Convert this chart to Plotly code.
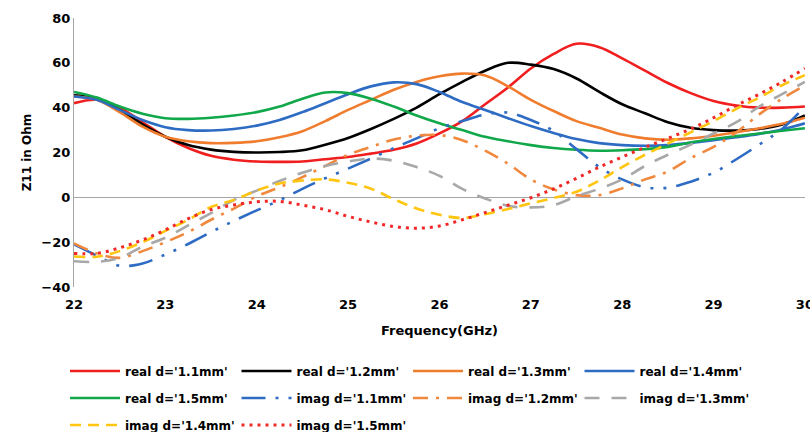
import plotly.graph_objects as go

freq = [22 + 0.25 * i for i in range(33)]

real_11 = [42, 43.5, 40, 33.5, 27, 22, 18.5, 16.8, 16, 15.8, 16, 17, 18, 19.5, 21.2, 24, 28.5,
           34, 41.5, 49, 57.5, 64, 68.5, 67, 62, 56.5, 51, 46.5, 43, 41, 40, 40, 40.5]
real_12 = [45.5, 44, 39, 32.5, 27, 23.3, 21.3, 20.3, 20, 20.2, 21, 23.5, 26.5, 30.5, 35, 40, 46,
           51.5, 56.5, 60, 59.2, 57.2, 53, 47, 41.5, 37.5, 33.5, 31, 30, 29.8, 30.5, 32.5, 36.5]
real_13 = [45, 43.5, 38, 31.5, 27, 25, 24.2, 24.3, 25, 26.8, 29.5, 34, 39, 43.5, 48, 51.5, 54,
           55.2, 54.3, 49.5, 43.5, 38.5, 34, 31, 28, 26.3, 25.7, 26.3, 27.5, 29, 30.8, 32.8, 35.5]
real_14 = [45, 43.5, 39, 34.5, 31.3, 30, 29.8, 30.5, 32, 34.5, 38, 42, 46, 49.5, 51.3, 50.5, 47,
           42.5, 39, 35.3, 31.8, 28.7, 26, 24.2, 23.3, 23, 23.3, 24.3, 25.5, 26.8, 28.3, 30.3, 33]
real_15 = [47, 44.5, 40.5, 37.3, 35.3, 35, 35.5, 36.5, 38, 40.5, 44, 46.8, 46.5, 44, 40.5, 36.5, 33,
           30, 27, 25, 23.3, 22, 21.2, 20.8, 21, 21.5, 22.5, 24.5, 26, 27.3, 28.5, 29.7, 30.8]
imag_11 = [-21, -26, -30.5, -29.5, -25.5, -20.8, -15.5, -10.5, -5.8, -1.3, 3.8, 8.5, 12.8, 17.3, 22, 26.3, 30.8,
           34, 37, 37.8, 34.5, 29.6, 21.5, 13.5, 8, 4.5, 4.3, 7, 11, 17, 23.5, 30.5, 40.5]
imag_12 = [-20.5, -25, -27, -24, -20, -15.5, -10, -5, 0.5, 4.5, 9, 14, 19, 22.5, 25.8, 27.5, 27.8,
           25.5, 20.8, 15, 8, 3.5, 1, 1, 4, 8, 11.5, 17.5, 22.5, 29, 37, 44, 50]
imag_13 = [-28.5, -28.8, -27, -22, -18, -12.5, -7, -1.2, 3, 7.3, 11, 14, 16, 17.3, 16.3, 13.5, 9.6,
           3.8, -0.5, -3.8, -4.5, -3.5, 0.5, 3.8, 8, 14, 19, 23.5, 28.5, 33.5, 40.5, 46, 51.5]
imag_14 = [-26.4, -26.5, -24, -20, -15, -10, -4.3, -1.2, 3, 6.2, 7.5, 8, 6.5, 3.8, -0.8, -5, -7.8,
           -9.2, -7.5, -5.2, -2.7, -0.3, 2.5, 7.5, 13.5, 19, 24, 29, 34, 39.5, 44.5, 50, 54.5]
imag_15 = [-25, -25, -22.5, -19, -14.5, -9.5, -5.5, -3.4, -2, -1.8, -3.5, -5.5, -8.5, -11, -13, -13.8, -12.8,
           -10, -6.8, -3.5, -0.2, 3.8, 8.5, 13.5, 18, 22.3, 26.3, 30.5, 35.5, 41, 46, 51.5, 57.5]

names = ["real d='1.1mm'", "real d='1.2mm'", "real d='1.3mm'", "real d='1.4mm'",
         "real d='1.5mm'", "imag d='1.1mm'", "imag d='1.2mm'", "imag d='1.3mm'",
         "imag d='1.4mm'", "imag d='1.5mm'"]
series = [real_11, real_12, real_13, real_14, real_15, imag_11, imag_12, imag_13, imag_14, imag_15]
colors = ["#F01E1E", "#000000", "#F07C2E", "#2E6CC4", "#10A84A",
          "#2E6CC4", "#F0883E", "#A8A8A8", "#FFC510", "#F02828"]
dashes = ["solid", "solid", "solid", "solid", "solid",
          "24px,10px,3px,10px,3px,10px", "15px,8px,3px,8px", "15px,12px", "11px,7px", "3px,5px"]
widths = [2.6, 2.6, 2.6, 2.6, 2.6, 2.6, 2.6, 2.6, 2.6, 3]
legends = ["legend"] * 4 + ["legend2"] * 4 + ["legend3"] * 2

FONT = "DejaVu Sans"
fig = go.Figure()
for n, s, c, d, w, lg in zip(names, series, colors, dashes, widths, legends):
    fig.add_trace(go.Scatter(x=freq, y=s, name=n, mode="lines",
                             line=dict(color=c, dash=d, width=w, shape="spline", smoothing=1.0),
                             legend=lg))

leg_common = dict(orientation="h", xanchor="left", yanchor="middle",
                  xref="container", yref="container", x=65 / 810,
                  entrywidth=106.5, entrywidthmode="pixels", itemwidth=50,
                  font=dict(family=FONT, size=12, color="#000000", weight="bold"),
                  bgcolor="rgba(0,0,0,0)", traceorder="normal")

fig.update_layout(
    width=810, height=432,
    margin=dict(l=74, r=5, t=18, b=145),
    paper_bgcolor="white", plot_bgcolor="white",
    font=dict(family=FONT, color="#000000"),
    legend=dict(y=1 - 371 / 432, **leg_common),
    legend2=dict(y=1 - 398 / 432, **leg_common),
    legend3=dict(y=1 - 425 / 432, **leg_common),
    xaxis=dict(range=[22, 30.001], tickvals=list(range(22, 31)), showgrid=False, zeroline=False,
               showline=False, ticks="", ticklabelstandoff=8, ticklabeloverflow="allow",
               automargin=False,
               tickfont=dict(family=FONT, size=13, weight="bold"),
               title=dict(text="Frequency(GHz)", font=dict(family=FONT, size=13, weight="bold"),
                          standoff=14)),
    yaxis=dict(range=[-40, 80], dtick=20, showgrid=False, zeroline=True, zerolinecolor="#A6A6A6",
               zerolinewidth=1.3, showline=True, linecolor="#A6A6A6", linewidth=1.3, ticks="",
               automargin=False,
               tickfont=dict(family=FONT, size=13, weight="bold"),
               title=dict(text="Z11 in Ohm", font=dict(family=FONT, size=12, weight="bold"),
                          standoff=7)),
)

fig.write_html("out.html")
